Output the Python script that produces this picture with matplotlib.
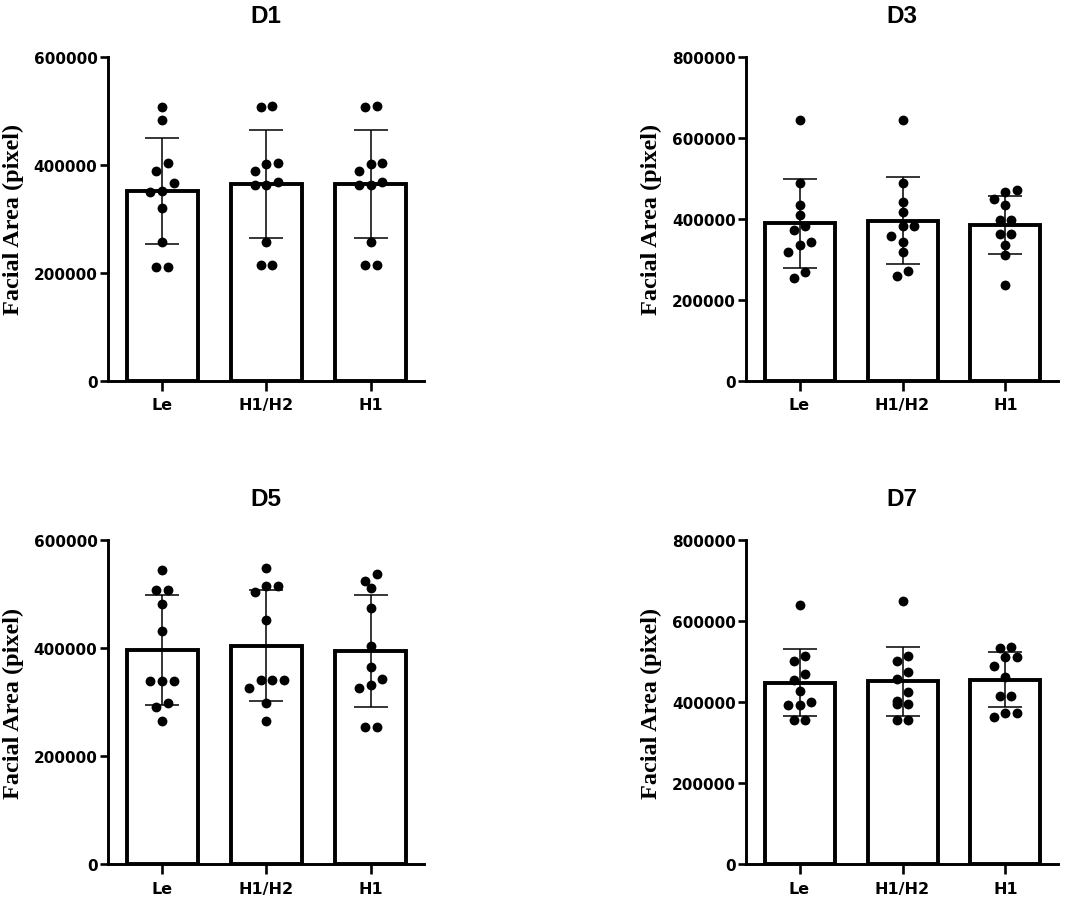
import matplotlib
matplotlib.use('Agg')
import matplotlib.pyplot as plt
import numpy as np

plt.rcParams['font.family'] = ['DejaVu Sans']
plt.rcParams['font.weight'] = 'bold'

groups = ['Le', 'H1/H2', 'H1']
days = ['D1', 'D3', 'D5', 'D7']
y_max = [600000, 800000, 600000, 800000]
y_step = 200000

# bar heights (mean) and error bars (SD)
means = {
    'D1': [352000, 365000, 365000],
    'D3': [389000, 395000, 385000],
    'D5': [396000, 404000, 395000],
    'D7': [448000, 451000, 455000],
}
sds = {
    'D1': [98000, 100000, 100000],
    'D3': [109500, 108000, 71500],
    'D5': [101500, 102500, 104000],
    'D7': [82700, 85000, 67400],
}

# individual measurements
d1_le = [507000, 483000, 404000, 389000, 367000, 352000, 350000, 319000, 256000, 211000, 211000]
d1_h1h2 = [509000, 507000, 403000, 401000, 389000, 368000, 362000, 362000, 257000, 215000, 215000]
d1_h1 = [509000, 507000, 403000, 401000, 389000, 368000, 362000, 362000, 257000, 215000, 215000]

d3_le = [644000, 487000, 435000, 409000, 383000, 372000, 343000, 336000, 319000, 269000, 254000]
d3_h1h2 = [644000, 487000, 442000, 417000, 381000, 381000, 358000, 343000, 317000, 272000, 258000]
d3_h1 = [472000, 465000, 449000, 434000, 398000, 398000, 362000, 362000, 335000, 310000, 237000]

d5_le = [545000, 508000, 508000, 482000, 432000, 338000, 338000, 338000, 298000, 290000, 264000]
d5_h1h2 = [549000, 514000, 514000, 504000, 451000, 341000, 341000, 340000, 326000, 299000, 264000]
d5_h1 = [537000, 524000, 511000, 474000, 404000, 364000, 343000, 332000, 325000, 253000, 253000]

d7_le = [640000, 514000, 500000, 469000, 455000, 426000, 401000, 393000, 393000, 356000, 356000]
d7_h1h2 = [649000, 514000, 502000, 473000, 457000, 424000, 402000, 395000, 395000, 356000, 356000]
d7_h1 = [537000, 533000, 512000, 512000, 488000, 461000, 416000, 416000, 372000, 372000, 364000]

points = {
    'D1': [d1_le, d1_h1h2, d1_h1],
    'D3': [d3_le, d3_h1h2, d3_h1],
    'D5': [d5_le, d5_h1h2, d5_h1],
    'D7': [d7_le, d7_h1h2, d7_h1],
}


def row_offsets(ax, vals, row_px=10.0, step_px=11.7):
    """Put points with nearly equal values side by side (GraphPad-like scatter)."""
    vals = np.asarray(vals, dtype=float)
    to_px = ax.transData.transform
    ys = to_px(np.column_stack([np.zeros(len(vals)), vals]))[:, 1]
    px_per_unit = to_px([(1, 0)])[0, 0] - to_px([(0, 0)])[0, 0]
    order = np.argsort(-vals, kind='stable')
    offs = np.zeros(len(vals))
    rows = []
    for i in order:
        if rows and ys[rows[-1][0]] - ys[i] < row_px:
            rows[-1].append(i)
        else:
            rows.append([i])
    for row in rows:
        k = len(row)
        for j, i in enumerate(row):
            offs[i] = ((k - 1) / 2 - j) * step_px / px_per_unit
    return offs


fig = plt.figure(figsize=(10.84, 9.03), dpi=100)

# axes boxes in figure fractions (left, bottom, width, height)
boxes = [
    (0.0996, 0.5773, 0.2915, 0.3588),
    (0.6882, 0.5773, 0.2878, 0.3588),
    (0.0996, 0.0421, 0.2915, 0.3588),
    (0.6882, 0.0421, 0.2878, 0.3588),
]

x = np.arange(len(groups))
for day, top, box in zip(days, y_max, boxes):
    ax = fig.add_axes(box)
    ax.set_xlim(-0.52, 2.51)
    ax.set_ylim(0, top)

    ax.bar(x, means[day], width=0.68, color='white', edgecolor='black',
           linewidth=2.8, zorder=2)
    ax.errorbar(x, means[day], yerr=sds[day], fmt='none', ecolor='black',
                elinewidth=1.1, capsize=12, capthick=1.1, zorder=3)
    for xi, vals in zip(x, points[day]):
        offs = row_offsets(ax, vals)
        ax.scatter(xi + offs, vals, s=50, color='black', zorder=4,
                   linewidths=0, clip_on=False)

    yt = np.arange(0, top + 1, y_step)
    ax.set_yticks(yt)
    ax.set_yticklabels([f'{int(t)}' for t in yt])
    ax.set_xticks(x)
    ax.set_xticklabels(groups)

    for side in ['top', 'right']:
        ax.spines[side].set_visible(False)
    for side in ['left', 'bottom']:
        ax.spines[side].set_linewidth(2.1)
    ax.tick_params(axis='y', length=5.5, width=1.9, pad=2, labelsize=11)
    ax.tick_params(axis='x', length=7, width=1.9, pad=5, labelsize=11.5)

    ax.set_title(day, fontsize=17.5, fontweight='bold', pad=25,
                 family=['Liberation Sans', 'DejaVu Sans'])
    ax.set_ylabel('Facial Area (pixel)', fontsize=17.5, fontweight='bold',
                  family=['Liberation Serif', 'DejaVu Serif'], labelpad=7)

fig.savefig('out.png', dpi=100)
